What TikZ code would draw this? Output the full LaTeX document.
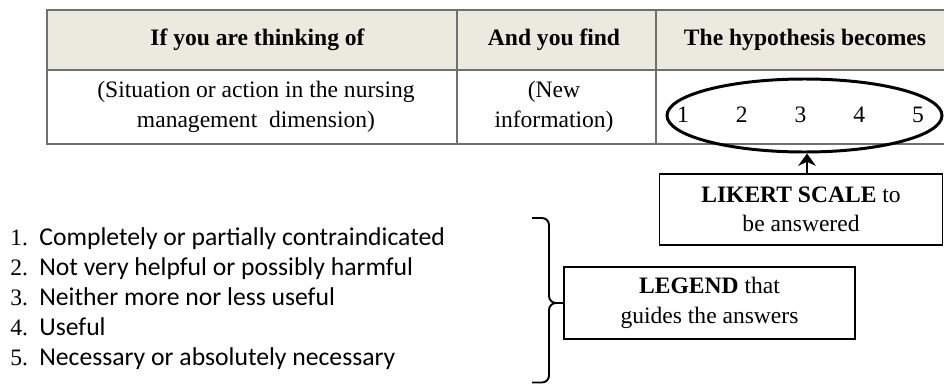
\documentclass[tikz,border=0pt]{standalone}
\usepackage{fontspec}
\setmainfont{Liberation Serif}
\newfontfamily\listfont{Carlito}
\usetikzlibrary{shapes.geometric,arrows.meta}
\definecolor{headfill}{RGB}{236,233,222}
\definecolor{rulegray}{RGB}{112,112,112}

\begin{document}
\begin{tikzpicture}[
  every node/.style={font=\fontsize{13.4}{16.8}\selectfont, align=center, inner sep=0pt},
  head/.style={font=\fontsize{13.4}{16.8}\selectfont\bfseries},
  rule/.style={rulegray, line width=1.1pt},
  textbox/.style={draw, line width=1.1pt, minimum height=1.42cm},
  num/.style={anchor=base west},
  item/.style={anchor=base west, font=\listfont\fontsize{14.6}{17}\selectfont},
  bracket/.style={line width=1.1pt, rounded corners=0.14cm}
]
\useasboundingbox (0,0) rectangle (18.88,7.7);

% table
\fill[headfill] (0.94,7.5) rectangle (18.88,6.3);
\draw[rule] (18.88,7.5) -- (0.94,7.5) -- (0.94,4.82) -- (18.88,4.82);
\draw[rule] (0.94,6.3) -- (18.88,6.3);
\draw[rule] (9.14,7.5) -- (9.14,4.82);
\draw[rule] (13.12,7.5) -- (13.12,4.82);

\node[head] (thinking) at (5.15,6.9) {If you are thinking of};
\node[head] (find) at (11.08,6.9) {And you find};
\node[head] (becomes) at (16.1,6.9) {The hypothesis becomes};
\node (situation) at (5.12,5.56) {(Situation or action in the nursing\\ management\ \ dimension)};
\node (newinfo) at (11.08,5.56) {(New\\ information)};

% likert scale
\node[draw, ellipse, line width=1.7pt, minimum width=5.5cm, minimum height=1.46cm] (scale) at (16.09,5.39) {};
\foreach \i in {1,...,5}
  \node (n\i) at ({13.66+(\i-1)*1.175},5.4) {\i};

\node[textbox, minimum width=5.66cm] (likert) at (16.02,3.51) {\textbf{LIKERT SCALE} to\\ be answered};
\draw[line width=1.5pt, -{Stealth[length=7pt,width=10pt]}] (likert.north -| 16.14,0) -- (scale.south -| 16.14,0);

% legend
\foreach \i/\txt in {1/Completely or partially contraindicated, 2/Not very helpful or possibly harmful,
  3/Neither more nor less useful, 4/Useful, 5/Necessary or absolutely necessary} {
  \node[num] (num\i) at (0.2,{2.8-(\i-1)*0.6}) {\i.};
  \node[item] (item\i) at (0.78,{2.8-(\i-1)*0.6}) {\txt};
}

\node[textbox, minimum width=5.82cm, minimum height=1.44cm] (legend) at (14.19,1.64) {\textbf{LEGEND} that\\ guides the answers};
\coordinate (btop) at (10.64,3.34);
\coordinate (bbot) at (10.64,0.05);
\draw[bracket] (btop) -- (10.98,3.34) -- (10.98,1.64) -- (legend.west);
\draw[bracket] (bbot) -- (10.98,0.05) -- (10.98,1.64) -- (legend.west);
\end{tikzpicture}
\end{document}
